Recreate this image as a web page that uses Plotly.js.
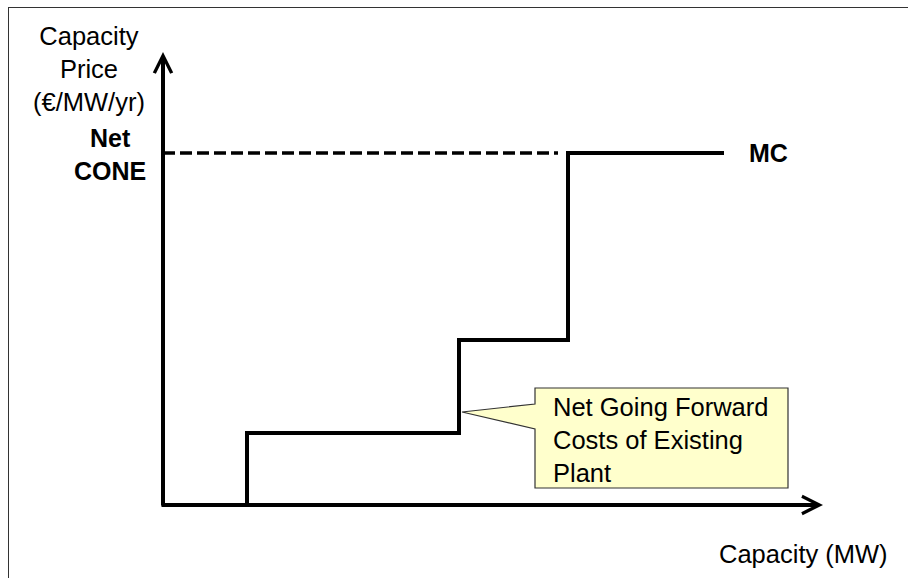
<!DOCTYPE html>
<html>
<head>
<meta charset="utf-8">
<script src="https://cdn.plot.ly/plotly-3.0.1.min.js"></script>
<style>
  body { margin: 0; background: #fff; }
  #chart { width: 908px; height: 578px; }
  #frame {
    position: absolute; left: 8px; top: 7px; right: 0; bottom: 0;
    border-left: 1.5px solid #333; border-top: 1.5px solid #333;
    pointer-events: none;
  }
</style>
</head>
<body>
<div id="chart"></div>
<div id="frame"></div>
<script>
// Supply curve steps (arbitrary capacity / price units)
const stepCapacity = [0.84, 2.96, 4.05, 5.61];
const stepPrice = [0, 7.2, 16.5, 35.2];
const netCone = 35.2;
const coneDashEnd = 3.95;
const xMax = 6.6;
const yMax = 45.3;

const FONT = "Arial, 'Liberation Sans', sans-serif";

// callout box around the "going forward costs" label
const box = { x0: 3.72, x1: 6.25, y0: 1.7, y1: 11.7 };
const pointer = { tipX: stepCapacity[1] + 0.03, tipY: 9.3, top: 10.1, bottom: 7.6 };

const traces = [
  {
    x: stepCapacity, y: stepPrice,
    type: 'scatter', mode: 'lines',
    line: { color: '#000', width: 4, shape: 'vh' },
    cliponaxis: false, hoverinfo: 'skip',
  },
  {
    x: [0, coneDashEnd], y: [netCone, netCone],
    type: 'scatter', mode: 'lines',
    line: { color: '#000', width: 3.5, dash: '12px,5px' },
    cliponaxis: false, hoverinfo: 'skip',
  },
];

const calloutPath = `M${box.x0},${box.y1} L${box.x1},${box.y1} L${box.x1},${box.y0} L${box.x0},${box.y0} ` +
  `L${box.x0},${pointer.bottom} L${pointer.tipX},${pointer.tipY} L${box.x0},${pointer.top} Z`;

const layout = {
  width: 908, height: 578,
  margin: { l: 163, r: 85, t: 52, b: 73 },
  paper_bgcolor: '#fff', plot_bgcolor: '#fff',
  showlegend: false,
  font: { family: FONT, size: 25.5, color: '#000' },
  xaxis: { range: [0, xMax], visible: false, fixedrange: true },
  yaxis: { range: [0, yMax], visible: false, fixedrange: true },
  shapes: [
    { type: 'path', path: calloutPath, xref: 'x', yref: 'y',
      fillcolor: '#FFFFCC', line: { color: '#333', width: 1.2 }, layer: 'above' },
  ],
  annotations: [
    // axes with arrow heads
    { x: xMax, y: 0, ax: -0.03, ay: 0, axref: 'x', ayref: 'y', xref: 'x', yref: 'y',
      text: '', showarrow: true, arrowhead: 5, arrowwidth: 4, arrowsize: 0.85, arrowcolor: '#000' },
    { x: 0, y: yMax, ax: 0, ay: -0.2, axref: 'x', ayref: 'y', xref: 'x', yref: 'y',
      text: '', showarrow: true, arrowhead: 5, arrowwidth: 4, arrowsize: 0.85, arrowcolor: '#000' },
    // labels
    { xref: 'paper', yref: 'paper', x: -0.112, y: 0.962, xanchor: 'center', yanchor: 'middle',
      text: 'Capacity<br>Price<br>(€/MW/yr)', showarrow: false, align: 'center' },
    { xref: 'paper', yref: 'paper', x: -0.08, y: 0.773, xanchor: 'center', yanchor: 'middle',
      text: '<b>Net</b><br><b>CONE</b>', showarrow: false, align: 'center', font: { size: 25 } },
    { xref: 'x', yref: 'y', x: 6.05, y: netCone, xanchor: 'center', yanchor: 'middle',
      text: '<b>MC</b>', showarrow: false, font: { size: 25 } },
    { xref: 'paper', yref: 'paper', x: 0.971, y: -0.108, xanchor: 'center', yanchor: 'middle',
      text: 'Capacity (MW)', showarrow: false },
    { xref: 'x', yref: 'y', x: 3.88, y: 6.5, xanchor: 'left', yanchor: 'middle',
      text: 'Net Going Forward<br>Costs of Existing<br>Plant', showarrow: false, align: 'left' },
  ],
};

Plotly.newPlot('chart', traces, layout, { displayModeBar: false, staticPlot: true });
</script>
</body>
</html>
